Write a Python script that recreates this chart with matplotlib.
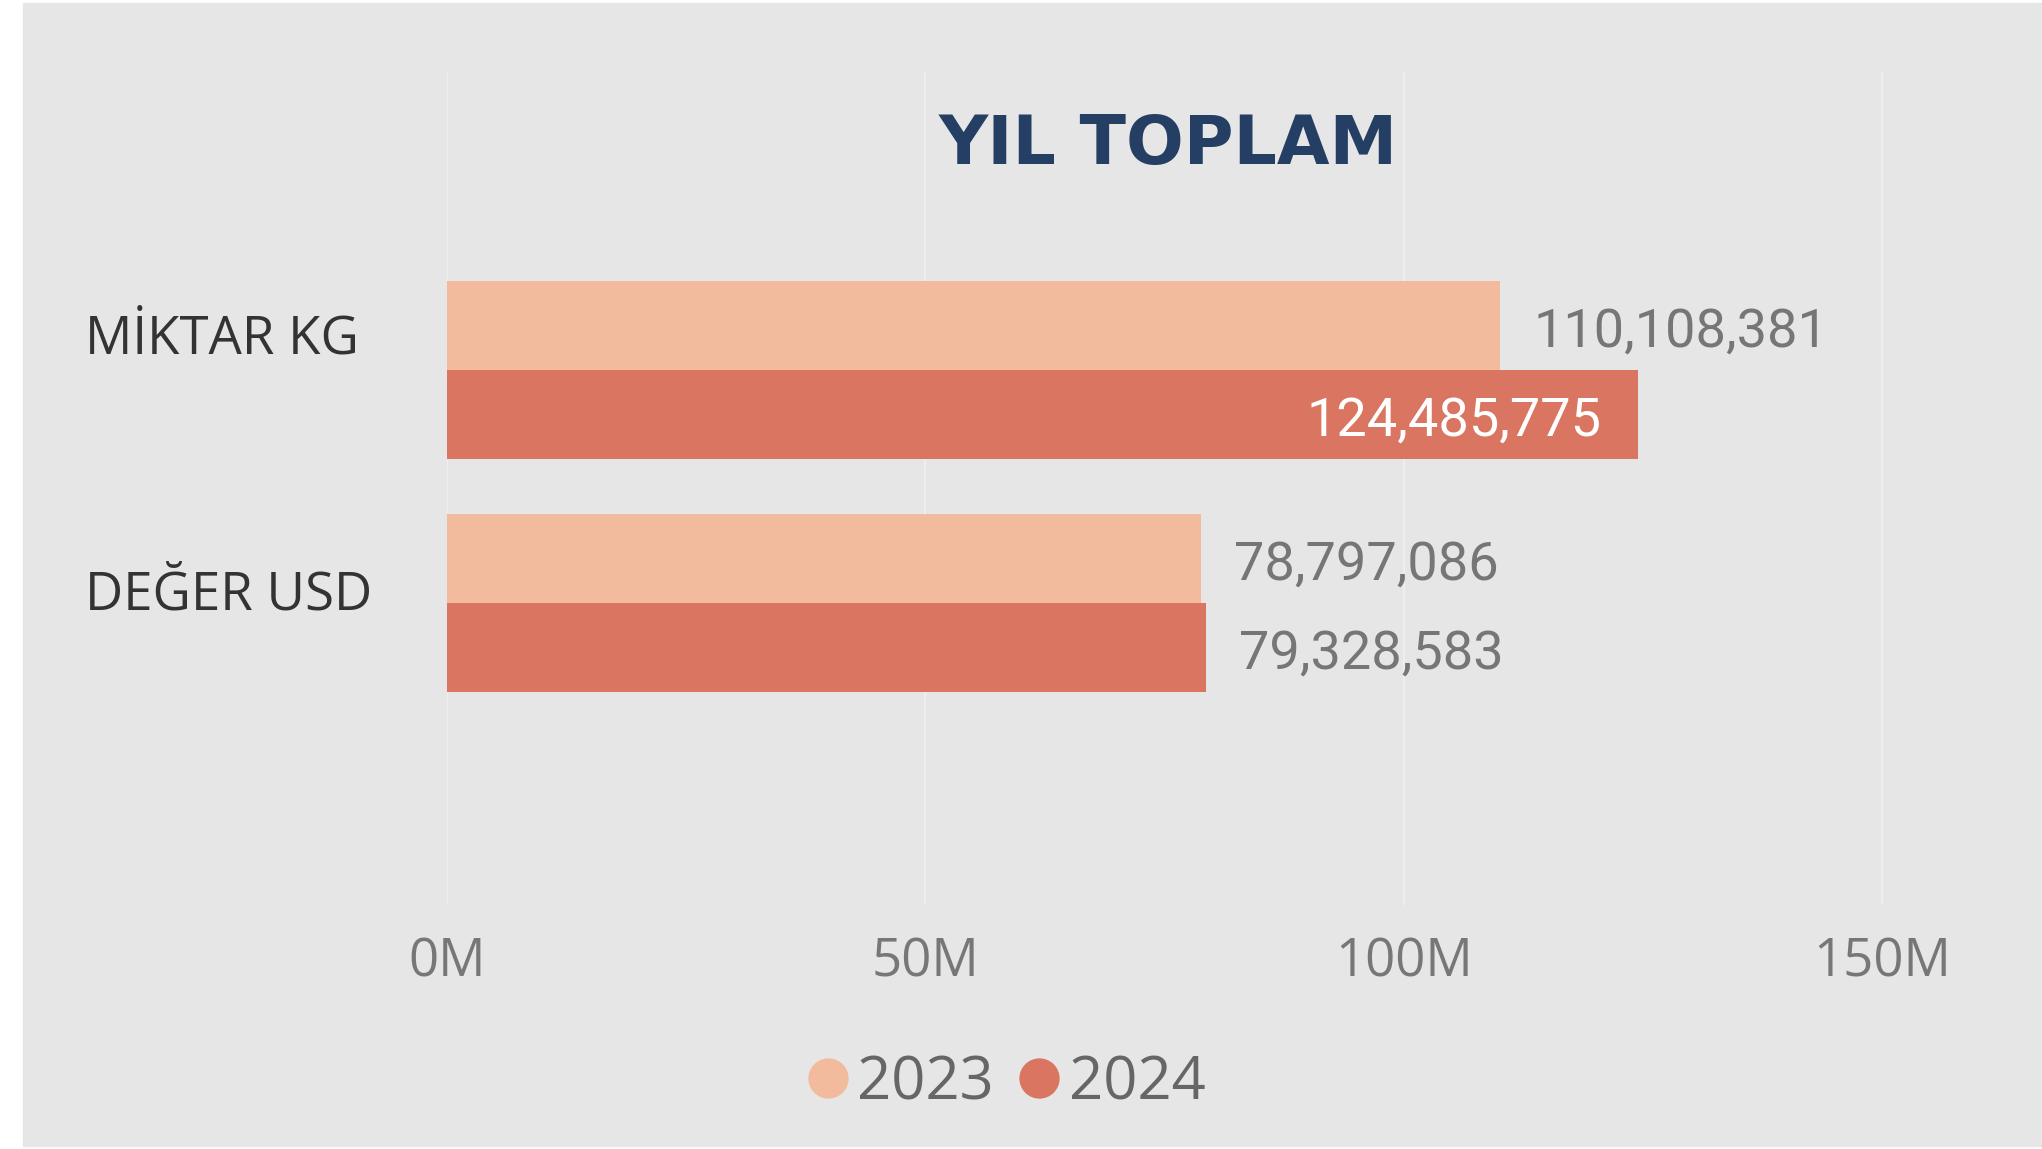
import matplotlib
matplotlib.use('Agg')
import matplotlib.pyplot as plt
from matplotlib.patches import Rectangle
from matplotlib.lines import Line2D

categories = ['MİKTAR KG', 'DEĞER USD']
years = ['2023', '2024']
values_2023 = [110108381, 78797086]
values_2024 = [124485775, 79328583]
ticks = [0, 50, 100, 150]
tick_labels = ['0M', '50M', '100M', '150M']

c2023 = '#F2BB9D'
c2024 = '#D97560'
bg = '#E6E6E6'

W, H = 2042, 1149
fig = plt.figure(figsize=(W / 100, H / 100), dpi=100)
fig.patch.set_facecolor('white')
fig.patches.append(Rectangle((23 / W, 3 / H), 1 - 23 / W, 1 - 6 / H,
                             transform=fig.transFigure, color=bg, zorder=-5))

# axes placed so that 0M sits at x=447px and 150M at x=1882px
px_per_m = (1882 - 447) / 150
ax_w = 155 * px_per_m
ax = fig.add_axes([447 / W, (H - 905) / H, ax_w / W, (905 - 72) / H])
ax.set_facecolor('none')
ax.set_xlim(0, 155)
ax.set_ylim(2.296, -1.279)

y = list(range(len(categories)))
h = 0.382
ax.barh([i - h / 2 for i in y], [v / 1e6 for v in values_2023], height=h,
        color=c2023, zorder=2)
ax.barh([i + h / 2 for i in y], [v / 1e6 for v in values_2024], height=h,
        color=c2024, zorder=2)

# value labels
for vals, off in [(values_2023, -h / 2), (values_2024, h / 2)]:
    for i, v in enumerate(vals):
        if v > 120e6:
            ax.annotate(f'{v:,}', (v / 1e6, i + off), xytext=(-26, -5),
                        textcoords='offset points', ha='right', va='center',
                        fontsize=39, color='white', family='Roboto', zorder=3)
        else:
            ax.annotate(f'{v:,}', (v / 1e6, i + off), xytext=(24, -5),
                        textcoords='offset points', ha='left', va='center',
                        fontsize=39, color='#767676', family='Roboto', zorder=3)

ax.set_xticks(ticks)
ax.set_xticklabels(tick_labels, family='Open Sans', fontsize=38, color='#777777')
ax.tick_params(axis='x', length=0, pad=22)
ax.set_yticks([])
ax.grid(axis='x', color='#EEEEEE', lw=1.5, zorder=1)
ax.set_axisbelow(True)
for s in ax.spines.values():
    s.set_visible(False)

# category labels
cat_baselines = [353, 610]
for name, b in zip(categories, cat_baselines):
    fig.text(85 / W, (H - b) / H, name, ha='left', va='baseline',
             family='Open Sans', fontsize=38, color='#333333')

fig.text(1168 / W, (H - 145) / H, 'YIL TOPLAM', ha='center', va='center',
         fontsize=49, fontweight='heavy', color='#243F63')

handles = [Line2D([], [], marker='o', ls='', markersize=28, color=c)
           for c in (c2023, c2024)]
leg = fig.legend(handles, years, loc='center', ncol=2,
                 bbox_to_anchor=(1006 / W, (H - 1083) / H), frameon=False,
                 prop={'family': 'Open Sans', 'size': 43},
                 handlelength=0.7, handletextpad=0.15, columnspacing=0.4,
                 borderpad=0, borderaxespad=0)
for t in leg.get_texts():
    t.set_color('#666666')

fig.savefig('out.png', dpi=100)
